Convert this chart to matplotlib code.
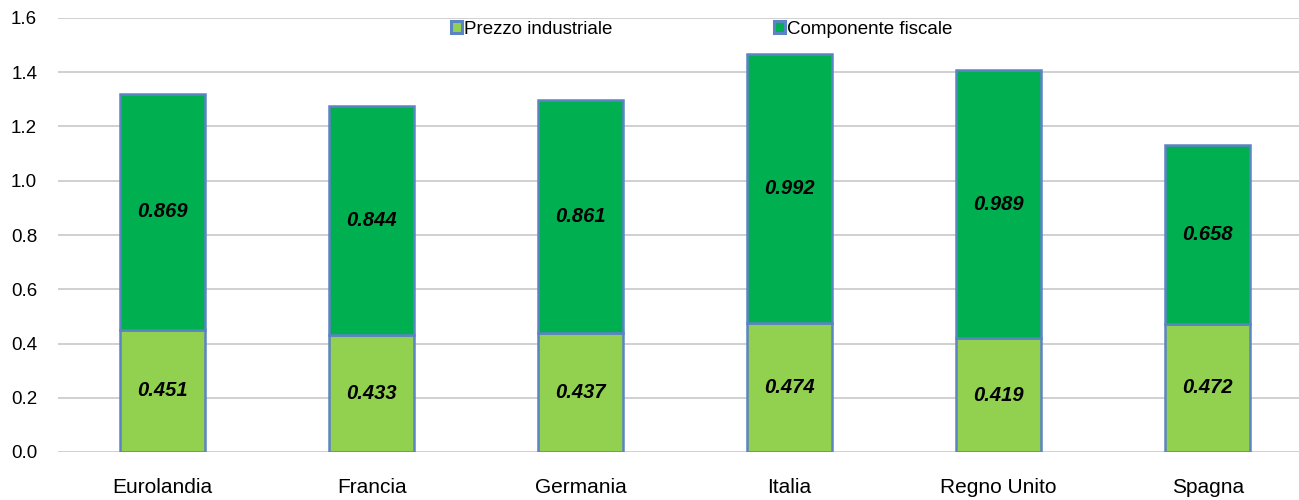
import matplotlib
matplotlib.use("Agg")
import matplotlib.pyplot as plt
import numpy as np

plt.rcParams["font.family"] = ["Liberation Sans", "DejaVu Sans"]

countries = ["Eurolandia", "Francia", "Germania", "Italia", "Regno Unito", "Spagna"]
prezzo_industriale = [0.451, 0.433, 0.437, 0.474, 0.419, 0.472]
componente_fiscale = [0.869, 0.844, 0.861, 0.992, 0.989, 0.658]

light_green = "#92D050"
dark_green = "#00B050"
edge = "#5B84C4"

fig = plt.figure(figsize=(12.99, 5.0), dpi=100)
# the plot area runs a little past the right edge of the picture
ax = fig.add_axes([0.0447, 0.096, 0.9654, 0.868])

x = np.arange(len(countries))
width = 0.41
ax.bar(x, prezzo_industriale, width, color=light_green, edgecolor=edge,
       linewidth=1.8, label="Prezzo industriale", zorder=3)
ax.bar(x, componente_fiscale, width, bottom=prezzo_industriale, color=dark_green,
       edgecolor=edge, linewidth=1.8, label="Componente fiscale", zorder=3)

for i in range(len(countries)):
    ax.text(x[i], prezzo_industriale[i] / 2, f"{prezzo_industriale[i]:.3f}",
            ha="center", va="center", fontsize=14.5, fontweight="bold", style="italic", zorder=4)
    ax.text(x[i], prezzo_industriale[i] + componente_fiscale[i] / 2, f"{componente_fiscale[i]:.3f}",
            ha="center", va="center", fontsize=14.5, fontweight="bold", style="italic", zorder=4)

ax.set_xlim(-0.5, len(countries) - 0.5)
ax.set_ylim(0, 1.6)
yt = np.arange(0, 1.61, 0.2)
ax.set_yticks(yt)
ax.set_yticklabels([f"{v:.1f}" for v in yt])
ax.set_xticks(x)
ax.set_xticklabels(countries)
ax.tick_params(axis="both", length=0)
ax.tick_params(axis="x", labelsize=15, pad=19)
ax.tick_params(axis="y", labelsize=13.5, pad=15)
ax.grid(axis="y", color="#C8C8C8", linewidth=1.2, zorder=0)
for s in ax.spines.values():
    s.set_visible(False)

leg = ax.legend(loc="upper center", bbox_to_anchor=(0.513, 0.993), ncol=2, frameon=False,
                fontsize=13.5, handlelength=0.6, handleheight=0.6, handletextpad=0.1,
                columnspacing=8.6, borderaxespad=0, borderpad=0)
for h in leg.legend_handles:
    h.set_linewidth(2.2)

fig.savefig("out.png", dpi=100)
